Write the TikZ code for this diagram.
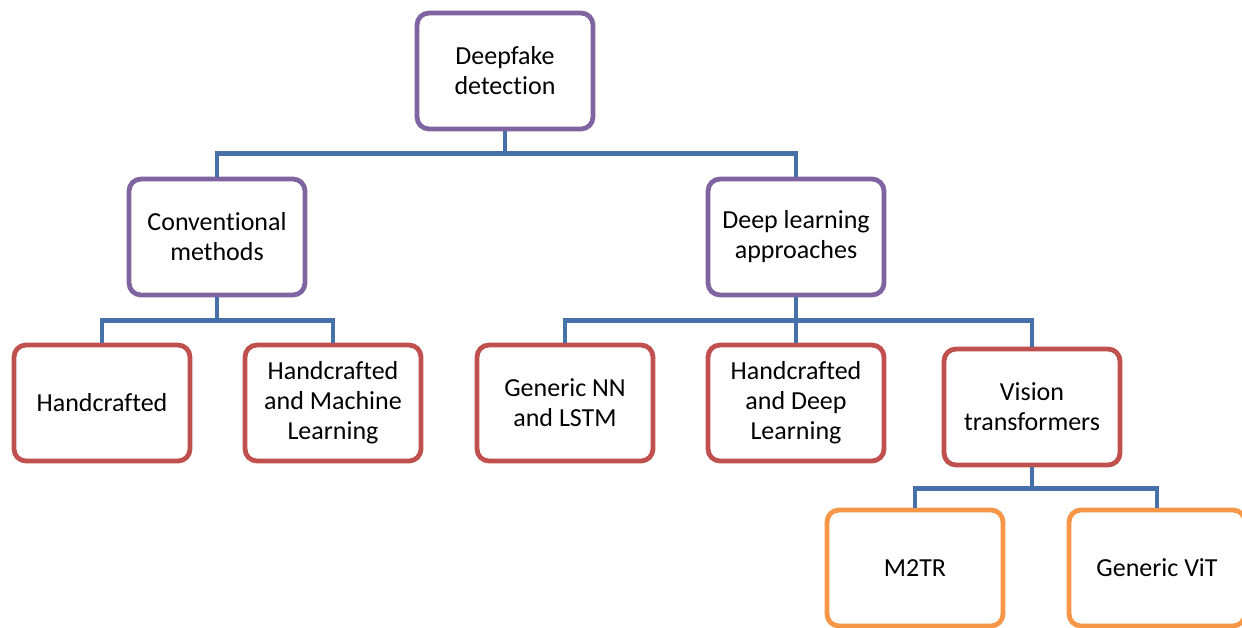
\documentclass[tikz,border=0pt]{standalone}
\usepackage{fontspec}
\setmainfont[Ligatures=NoCommon]{Carlito}
\tikzset{
    box/.style={rectangle,rounded corners=9pt,draw,line width=3.6pt,fill=white,
        minimum width=132pt,minimum height=87pt,align=center,
        font=\fontsize{19.5}{22.5}\selectfont},
    topbox/.style={box,draw=boxpurple},
    midbox/.style={box,draw=boxred},
    lowbox/.style={box,draw=boxorange},
    link/.style={-,line width=3.6pt,draw=linkblue},
}
\definecolor{boxpurple}{HTML}{8064A2}
\definecolor{boxred}{HTML}{C0504D}
\definecolor{boxorange}{HTML}{F79646}
\definecolor{linkblue}{HTML}{4671A8}

\begin{document}
\begin{tikzpicture}[x=0.75pt,y=-0.75pt]
    \useasboundingbox (0,0) rectangle (1242,628);
    \clip (0,0) rectangle (1242,628);
    \node[topbox] (root) at (505,71) {Deepfake\\detection};
    \node[topbox] (conv) at (217,237) {Conventional\\methods};
    \node[topbox] (deep) at (796,237) {Deep learning\\approaches};
    \node[midbox] (hand) at (102,403) {Handcrafted};
    \node[midbox] (handml) at (333,403) {Handcrafted\\and Machine\\Learning};
    \node[midbox] (nn) at (565,403) {Generic NN\\and LSTM};
    \node[midbox] (handdl) at (796,403) {Handcrafted\\and Deep\\Learning};
    \node[midbox] (vit) at (1032,407) {Vision\\transformers};
    \node[lowbox] (m2tr) at (915,568) {M2TR};
    \node[lowbox] (gvit) at (1157,568) {Generic ViT};
    \draw[link] (root.south) -- ++(0,22) -| (conv.north);
    \draw[link] (root.south) -- ++(0,22) -| (deep.north);
    \draw[link] (conv.south) -- ++(0,23) -| (hand.north);
    \draw[link] (conv.south) -- ++(0,23) -| (handml.north);
    \draw[link] (deep.south) -- ++(0,23) -| (nn.north);
    \draw[link] (deep.south) -- (handdl.north);
    \draw[link] (deep.south) -- ++(0,23) -| (vit.north);
    \draw[link] (vit.south) -- ++(0,21) -| (m2tr.north);
    \draw[link] (vit.south) -- ++(0,21) -| (gvit.north);
\end{tikzpicture}
\end{document}
